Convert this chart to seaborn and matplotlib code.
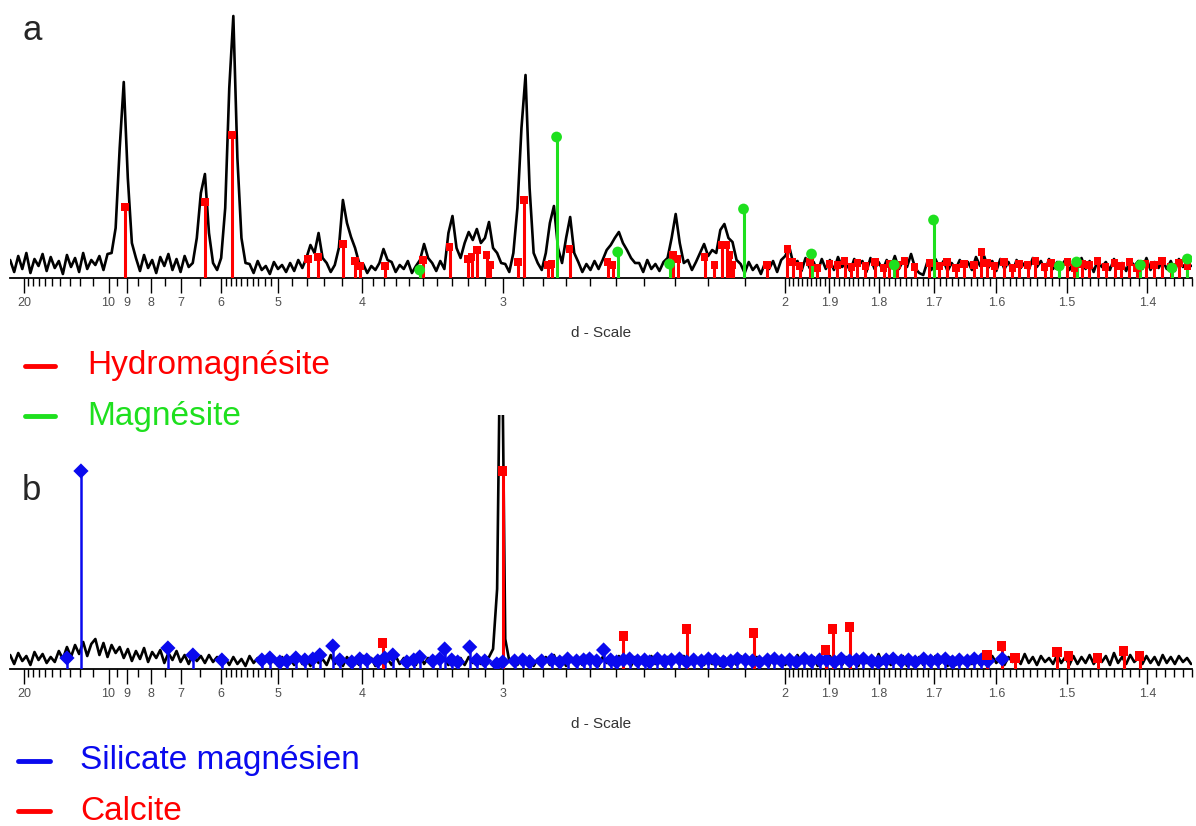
import matplotlib
matplotlib.use("Agg")
import matplotlib.pyplot as plt
from matplotlib.lines import Line2D
import seaborn as sns
import numpy as np

# diffractograms, counts above baseline, sampled at constant step in 1/d (1/Angstrom)
q_start = 0.0418
q_step = 0.0024

pattern_a = [
    18, 6, 22, 9, 25, 5, 19, 12, 24, 7, 21, 10, 17, 4, 23, 11, 20, 6, 25, 9, 18, 13, 22, 8, 24,
    25, 50, 130, 196, 100, 35,
    20, 7, 23, 10, 18, 5, 21, 12, 24, 8, 19, 6, 22, 11,
    15, 40, 85, 104, 45, 15,
    8,
    20, 70, 190, 262, 120, 40, 15,
    14, 5, 17, 8, 12, 4, 16, 9, 13, 6, 15, 7, 18, 10,
    20, 33, 25, 45, 20,
    15, 6, 13,
    30, 78, 55, 41, 30, 15,
    14, 5, 12, 8,
    15, 29, 18,
    16, 6, 13, 9, 17, 5, 12,
    18, 34, 20,
    15, 7, 17, 9,
    45, 62, 30,
    20, 35, 46, 38, 49, 35, 40, 56, 30, 25, 15,
    14, 6,
    25, 70, 150, 203, 90, 25,
    15, 8,
    25, 55, 72, 30, 15,
    40, 61, 25,
    16, 6, 14, 8, 17, 9,
    18, 28, 33, 40, 46, 35, 28, 20, 15,
    15, 6, 18, 9, 14, 7, 16,
    20, 40, 64, 35, 15,
    18, 8, 16,
    25, 34, 22, 28, 25, 48, 54, 40, 36, 18,
    14, 5, 16, 8, 13, 4, 15, 9, 17, 6, 18,
    22, 31, 14,
    17, 7, 20, 10, 16, 6, 19, 9, 18, 8,
    21, 11, 15, 7, 19, 12, 17, 6, 20, 9,
    16, 8, 18, 10, 22, 9, 17, 11, 24, 10,
    5, 3, 16, 8, 19, 10, 17, 7, 15, 9,
    18, 11, 16, 8, 21, 12, 22, 10, 17, 7,
    19, 9, 16, 6, 18, 10, 15, 8, 20, 11,
    17, 7, 19, 9, 16, 12, 18, 8, 15, 10,
    20, 9, 17, 6, 18, 11, 16, 8, 19, 10,
    15, 7, 18, 12, 17, 9, 20, 8, 16, 10,
    18, 9, 17, 7, 19, 11, 16, 12,
]

pattern_b = [
    14, 5, 16, 8, 13, 4, 17, 9, 15, 6, 12, 7, 18,
    10, 22, 12, 24, 15, 27, 13, 25, 30, 14, 26, 12, 24, 16, 22, 11,
    20, 8, 18, 10, 21, 7, 17, 11, 19, 6, 16, 9, 18, 7, 14, 5, 15, 8, 13, 6, 14, 7, 12, 5,
    11, 4, 12, 5, 10, 3, 13, 6, 11, 4, 12, 5, 9, 3, 12, 6, 10, 4, 13, 5,
    11, 3, 12, 6, 10, 4, 14, 5, 11, 3, 12, 6, 9, 4, 13, 5, 11, 3, 12, 6,
    10, 4, 13, 5, 11, 6, 12, 4, 15, 5, 11, 3, 12, 6, 10, 4, 13, 5, 11, 4,
    12, 6, 14, 5, 10,
    12, 20, 80, 420, 30, 8,
    12, 4, 11, 5, 13, 3, 10, 6, 12, 4, 14, 5, 11, 3, 12, 6, 10, 4, 13, 5,
    11, 3, 12, 6, 10, 4, 13, 5, 11, 3, 12, 6, 9, 4, 13, 5, 11, 3, 12, 6,
    10, 4, 13, 5, 11, 6, 12, 4, 14, 5, 11, 3, 12, 6, 10, 4, 13, 5, 11, 4,
    12, 5, 10, 3, 13, 6, 11, 4, 12, 5, 14, 6, 11, 4, 12, 3, 10, 5, 13, 6,
    11, 4, 12, 5, 10, 3, 13, 6, 11, 4, 15, 5, 12, 4, 11, 6, 13, 3, 10, 5,
    12, 4, 11, 6, 13, 5, 10, 3, 12, 4, 14, 6, 11, 5, 12, 4, 16, 5, 13, 6,
    11, 4, 12, 7, 13, 5, 15, 6, 12, 4, 13, 7, 11, 5, 14, 6, 12, 4, 13, 5,
    12, 6, 14, 5, 11, 7, 13, 4, 16, 6, 12, 5, 14, 7, 11, 5, 13, 6, 12, 4,
    14, 6, 12, 5, 13, 7, 11, 5,
]

# reference sticks (d in Angstrom, relative height)
hydromag_d = [9.12, 6.370, 5.783, 4.590, 4.469, 4.192, 4.071, 4.023, 3.797, 3.499,
              3.314, 3.201, 3.177, 3.147, 3.090, 3.073, 2.924, 2.894, 2.780, 2.762,
              2.683, 2.531, 2.512, 2.306, 2.291, 2.210, 2.182, 2.162, 2.148, 2.140,
              2.132, 2.044, 1.994, 1.982, 1.966, 1.943, 1.926, 1.900, 1.883, 1.868,
              1.854, 1.842, 1.826, 1.808, 1.791, 1.780, 1.765, 1.752, 1.734, 1.708,
              1.691, 1.678, 1.663, 1.650, 1.634, 1.623, 1.614, 1.603, 1.588, 1.576,
              1.566, 1.554, 1.543, 1.530, 1.521, 1.510, 1.499, 1.490, 1.480, 1.471,
              1.460, 1.450, 1.439, 1.431, 1.421, 1.412, 1.402, 1.392, 1.383, 1.373,
              1.364, 1.355]
hydromag_i = [71, 76, 143, 19, 21, 34, 17, 12, 12, 18,
              31, 19, 21, 28, 23, 13, 16, 78, 13, 14,
              29, 16, 13, 23, 19, 21, 13, 33, 33, 23,
              13, 13, 29, 16, 12, 16, 10, 14, 13, 17,
              11, 15, 12, 16, 10, 14, 13, 17, 11, 15,
              12, 16, 10, 14, 13, 26, 15, 12, 16, 10,
              14, 13, 17, 11, 15, 12, 16, 10, 14, 13,
              17, 11, 15, 12, 16, 10, 14, 13, 17, 11,
              15, 12]

magnesite_d = [3.521, 2.740, 2.493, 2.316, 2.103, 1.939, 1.771, 1.701, 1.510, 1.487,
               1.408, 1.372, 1.355]
magnesite_i = [8, 141, 26, 14, 69, 24, 13, 58, 12, 16, 13, 10, 19]

silicate_d = [13.26, 11.95, 7.402, 6.672, 5.987, 5.245, 5.118, 4.968, 4.868, 4.745,
              4.628, 4.529, 4.446, 4.299, 4.224, 4.101, 4.023, 3.957, 3.858, 3.797,
              3.730, 3.618, 3.565, 3.521, 3.428, 3.380, 3.347, 3.301, 3.263, 3.189,
              3.147, 3.101, 3.034, 3.002, 2.940, 2.899, 2.865, 2.808, 2.762, 2.726,
              2.692, 2.654, 2.625, 2.601, 2.573, 2.546, 2.519, 2.497, 2.472, 2.450,
              2.422, 2.398, 2.381, 2.355, 2.332, 2.310, 2.285, 2.263, 2.242, 2.219,
              2.199, 2.179, 2.157, 2.137, 2.119, 2.098, 2.080, 2.062, 2.042, 2.025,
              2.008, 1.989, 1.973, 1.955, 1.939, 1.921, 1.906, 1.889, 1.875, 1.858,
              1.844, 1.830, 1.814, 1.801, 1.786, 1.773, 1.758, 1.745, 1.733, 1.718,
              1.706, 1.694, 1.681, 1.669, 1.658, 1.645, 1.634, 1.623, 1.613, 1.591]
silicate_i = [11, 198, 21, 14, 9, 9, 11, 7, 8, 11,
              9, 10, 14, 23, 9, 7, 10, 9, 8, 11,
              14, 7, 9, 12, 8, 10, 20, 9, 7, 22,
              9, 8, 5, 7, 8, 9, 7, 8, 9, 7,
              10, 8, 9, 10, 8, 19, 9, 7, 9, 10,
              8, 9, 7, 10, 8, 9, 10, 7, 9, 8,
              10, 9, 7, 8, 10, 9, 8, 7, 9, 10,
              8, 9, 7, 10, 8, 9, 9, 7, 10, 8,
              9, 10, 8, 7, 9, 10, 8, 9, 7, 10,
              8, 9, 10, 7, 9, 8, 10, 9, 8, 10]

calcite_d = [3.814, 3.002, 2.472, 2.263, 2.077, 1.908, 1.893, 1.858, 1.614, 1.592,
             1.572, 1.513, 1.498, 1.460, 1.428, 1.409]
calcite_i = [26, 198, 33, 40, 36, 19, 40, 42, 14, 23, 11, 17, 13, 11, 18, 13]

major_d = [20, 10, 9, 8, 7, 6, 5, 4, 3, 2, 1.9, 1.8, 1.7, 1.6, 1.5, 1.4]
major_lbl = ["20", "10", "9", "8", "7", "6", "5", "4", "3", "2",
             "1.9", "1.8", "1.7", "1.6", "1.5", "1.4"]

RED = "#ff0000"
GREEN = "#1ee01e"
BLUE = "#0a0aee"

sns.set_style("white")
plt.rcParams["font.family"] = ["Liberation Sans", "DejaVu Sans"]

W, H = 1196, 826
fig = plt.figure(figsize=(W / 100, H / 100), dpi=100)

q_lo, q_hi = (10 + 60.6) / 1692, (1192 + 60.6) / 1692

minor_d = (list(range(11, 20)) + [9.5, 8.5, 7.5, 6.5]
           + list(np.arange(5.1, 5.95, 0.1)) + [4.2, 4.4, 4.6, 4.8]
           + list(np.arange(3.1, 3.95, 0.1)) + list(np.arange(2.1, 2.95, 0.1))
           + list(np.arange(1.35, 1.995, 0.01)))
minor_d = [d for d in minor_d if round(d, 3) not in [round(m, 3) for m in major_d]]


def setup_axis(ax, top):
    ax.set_xlim(q_lo, q_hi)
    ax.set_ylim(0, top)
    for s in ["left", "right", "top"]:
        ax.spines[s].set_visible(False)
    ax.spines["bottom"].set_color("black")
    ax.spines["bottom"].set_linewidth(1.3)
    ax.set_yticks([])
    ax.set_xticks([1 / d for d in major_d])
    ax.set_xticklabels(major_lbl)
    ax.set_xticks([1 / d for d in minor_d], minor=True)
    ax.tick_params(axis="x", which="major", length=11, width=1, color="black",
                   labelcolor="#505050", labelsize=9, pad=3, bottom=True)
    ax.tick_params(axis="x", which="minor", length=6, width=1, color="black", bottom=True)
    ax.set_xlabel("d - Scale", fontsize=11, color="#333333", labelpad=12)
    ax.set_ylabel("")
    ax.patch.set_alpha(0)


def sticks(ax, d, inten, color, marker, size, lw=2.2):
    q = 1 / np.array(d)
    ax.vlines(q, 0, inten, color=color, lw=lw, zorder=3)
    sns.scatterplot(x=q, y=inten, ax=ax, marker=marker, s=size, color=color,
                    edgecolor="none", zorder=4, legend=False)


# panel a
ax_a = fig.add_axes([10 / W, 1 - 278 / H, 1182 / W, 278 / H])
qa = q_start + q_step * np.arange(len(pattern_a))
sns.lineplot(x=qa, y=pattern_a, ax=ax_a, color="black", lw=1.9, zorder=2)
sticks(ax_a, hydromag_d, hydromag_i, RED, "s", 30)
sticks(ax_a, magnesite_d, magnesite_i, GREEN, "o", 60)
setup_axis(ax_a, 278)

# panel b
ax_b = fig.add_axes([10 / W, 1 - 669 / H, 1182 / W, 254 / H])
qb = q_start + q_step * np.arange(len(pattern_b))
sns.lineplot(x=qb, y=pattern_b, ax=ax_b, color="black", lw=1.9, zorder=2)
sticks(ax_b, silicate_d, silicate_i, BLUE, "D", 60, lw=1.8)
sticks(ax_b, calcite_d, calcite_i, RED, "s", 45)
setup_axis(ax_b, 254)

# panel letters
fig.text(22 / W, 1 - 31 / H, "a", fontsize=25, va="center", ha="left")
fig.text(22 / W, 1 - 490 / H, "b", fontsize=25, va="center", ha="left")

# legends
legend_rows = [
    ("Hydromagnésite", RED, 25, 55, 87, 366),
    ("Magnésite", GREEN, 25, 55, 87, 416),
    ("Silicate magnésien", BLUE, 18, 50, 80, 761),
    ("Calcite", RED, 18, 50, 80, 811),
]
for label, col, x0, x1, xt, y in legend_rows:
    fig.add_artist(Line2D([x0 / W, x1 / W], [1 - y / H, 1 - y / H],
                          transform=fig.transFigure, color=col, lw=3.5))
    fig.text(xt / W, 1 - y / H, label, color=col, fontsize=24, va="center", ha="left")

fig.savefig("out.png", dpi=100)
